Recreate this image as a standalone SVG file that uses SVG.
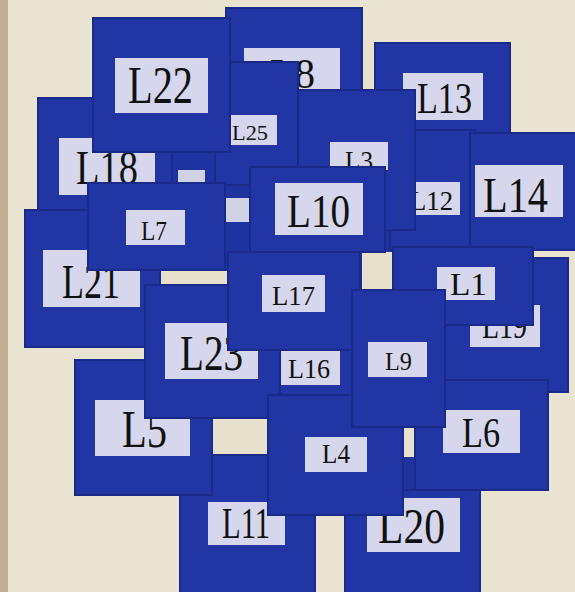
<svg xmlns="http://www.w3.org/2000/svg" width="575" height="592" viewBox="0 0 575 592">
<style>
.card{fill:#2136a4;stroke:#1a2a88;stroke-width:2}
.lab{fill:#d6d6ec}
.gap{fill:#e7e0cc}
.frag{fill:#d0d2e6}
text{font-family:"Liberation Serif","Times New Roman",serif;fill:#111;lengthAdjust:spacingAndGlyphs}
</style>
<rect x="0" y="0" width="575" height="592" fill="#e9e3d2"/>
<rect x="0" y="0" width="8" height="592" fill="#bfae90"/>
<g id="base">
<rect x="150" y="60" width="320" height="420" fill="#1f33a0"/>
<rect x="395" y="420" width="30" height="72" fill="#1f33a0"/>
<rect class="gap" x="362" y="40" width="13" height="52"/>
<rect class="gap" x="160" y="271" width="68" height="13"/>
<rect class="gap" x="362" y="252" width="33" height="40"/>
<rect class="gap" x="212" y="418" width="56" height="36"/>
<rect class="gap" x="403" y="427" width="12" height="30"/>
<rect class="gap" x="297" y="145" width="4" height="23"/>
<rect class="frag" x="178" y="170" width="27" height="13"/>
<rect class="frag" x="225" y="198" width="25" height="24"/>
</g>
<g id="L8"><rect class="card" x="226" y="8" width="136" height="160"/><rect class="lab" x="244" y="48" width="96" height="42"/><text x="270" y="88" font-size="42" textLength="45" lengthAdjust="spacingAndGlyphs">L8</text></g>
<g id="L13"><rect class="card" x="375" y="43" width="135" height="100"/><rect class="lab" x="403" y="73" width="80" height="47"/><text x="417" y="113" font-size="44" textLength="55" lengthAdjust="spacingAndGlyphs">L13</text></g>
<g id="L25"><rect class="card" x="215" y="62" width="83" height="123"/><rect class="lab" x="230" y="115" width="47" height="30"/><text x="232" y="140" font-size="22" textLength="36" lengthAdjust="spacingAndGlyphs">L25</text></g>
<g id="L18"><rect class="card" x="38" y="98" width="134" height="137"/><rect class="lab" x="59" y="138" width="96" height="57"/><text x="76" y="184" font-size="48" textLength="62" lengthAdjust="spacingAndGlyphs">L18</text></g>
<g id="L22"><rect class="card" x="93" y="18" width="137" height="134"/><rect class="lab" x="115" y="58" width="93" height="55"/><text x="128" y="103" font-size="52" textLength="65" lengthAdjust="spacingAndGlyphs">L22</text></g>
<g id="L12"><rect class="card" x="390" y="130" width="85" height="120"/><rect class="lab" x="413" y="182" width="47" height="33"/><text x="410" y="210" font-size="28" textLength="43" lengthAdjust="spacingAndGlyphs">L12</text></g>
<g id="L14"><rect class="card" x="470" y="133" width="110" height="117"/><rect class="lab" x="475" y="165" width="88" height="52"/><text x="483" y="212" font-size="50" textLength="65" lengthAdjust="spacingAndGlyphs">L14</text></g>
<g id="L3"><rect class="card" x="298" y="90" width="117" height="140"/><rect class="lab" x="330" y="142" width="58" height="28"/><text x="345" y="170" font-size="28" textLength="28" lengthAdjust="spacingAndGlyphs">L3</text></g>
<g id="L21"><rect class="card" x="25" y="210" width="135" height="137"/><rect class="lab" x="43" y="250" width="97" height="57"/><text x="62" y="298" font-size="48" textLength="58" lengthAdjust="spacingAndGlyphs">L21</text></g>
<g id="L7"><rect class="card" x="88" y="183" width="137" height="87"/><rect class="lab" x="126" y="210" width="59" height="35"/><text x="141" y="240" font-size="28" textLength="26" lengthAdjust="spacingAndGlyphs">L7</text></g>
<g id="L10"><rect class="card" x="250" y="167" width="135" height="85"/><rect class="lab" x="275" y="183" width="88" height="52"/><text x="287" y="227" font-size="46" textLength="63" lengthAdjust="spacingAndGlyphs">L10</text></g>
<g id="L19"><rect class="card" x="440" y="258" width="128" height="134"/><rect class="lab" x="470" y="305" width="70" height="42"/><text x="482" y="338" font-size="36" textLength="45" lengthAdjust="spacingAndGlyphs">L19</text></g>
<g id="L1"><rect class="card" x="393" y="247" width="140" height="78"/><rect class="lab" x="437" y="267" width="58" height="33"/><text x="450" y="295" font-size="32" textLength="37" lengthAdjust="spacingAndGlyphs">L1</text></g>
<g id="L11"><rect class="card" x="180" y="455" width="135" height="140"/><rect class="lab" x="208" y="502" width="77" height="43"/><text x="222" y="538" font-size="44" textLength="48" lengthAdjust="spacingAndGlyphs">L11</text></g>
<g id="L5"><rect class="card" x="75" y="360" width="137" height="135"/><rect class="lab" x="95" y="400" width="95" height="56"/><text x="122" y="447" font-size="52" textLength="45" lengthAdjust="spacingAndGlyphs">L5</text></g>
<g id="L16"><rect class="card" x="262" y="315" width="138" height="85"/><rect class="lab" x="280" y="350" width="60" height="35"/><text x="288" y="378" font-size="28" textLength="42" lengthAdjust="spacingAndGlyphs">L16</text></g>
<g id="L23"><rect class="card" x="145" y="285" width="135" height="133"/><rect class="lab" x="165" y="323" width="93" height="56"/><text x="180" y="370" font-size="50" textLength="63" lengthAdjust="spacingAndGlyphs">L23</text></g>
<g id="L17"><rect class="card" x="228" y="252" width="132" height="98"/><rect class="lab" x="262" y="275" width="63" height="37"/><text x="272" y="305" font-size="28" textLength="43" lengthAdjust="spacingAndGlyphs">L17</text></g>
<g id="L6"><rect class="card" x="415" y="380" width="133" height="110"/><rect class="lab" x="443" y="410" width="77" height="43"/><text x="462" y="447" font-size="42" textLength="38" lengthAdjust="spacingAndGlyphs">L6</text></g>
<g id="L20"><rect class="card" x="345" y="490" width="135" height="105"/><rect class="lab" x="367" y="498" width="93" height="54"/><text x="378" y="543" font-size="50" textLength="67" lengthAdjust="spacingAndGlyphs">L20</text></g>
<g id="L4"><rect class="card" x="268" y="395" width="135" height="120"/><rect class="lab" x="305" y="437" width="62" height="35"/><text x="322" y="463" font-size="28" textLength="28" lengthAdjust="spacingAndGlyphs">L4</text></g>
<g id="L9"><rect class="card" x="352" y="290" width="93" height="137"/><rect class="lab" x="368" y="342" width="59" height="35"/><text x="385" y="370" font-size="26" textLength="27" lengthAdjust="spacingAndGlyphs">L9</text></g>
</svg>
